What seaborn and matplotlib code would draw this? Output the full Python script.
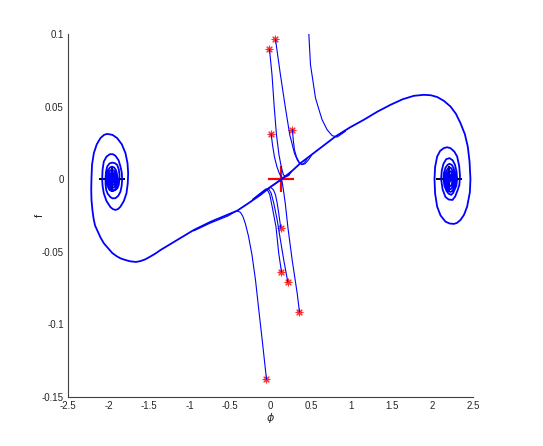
import matplotlib
matplotlib.use("Agg")
import matplotlib.pyplot as plt
import seaborn as sns
import pandas as pd

# ---------------- data ----------------
# unstable manifold from the saddle to the right focus (incl. spiral)
right_phi = [0.136, 0.247, 0.370, 0.802, 0.98, 1.152, 1.32, 1.481, 1.63, 1.769, 1.893, 1.98, 2.058, 2.14,
             2.222, 2.29, 2.346, 2.40, 2.436, 2.458, 2.469, 2.462, 2.428, 2.390, 2.346, 2.300, 2.263,
             2.210, 2.160, 2.100, 2.058, 2.033, 2.025, 2.033, 2.058, 2.095, 2.140, 2.180, 2.222, 2.270,
             2.305, 2.330, 2.340, 2.332, 2.312, 2.280, 2.247, 2.200, 2.160, 2.125, 2.107, 2.115, 2.136,
             2.170, 2.210, 2.250, 2.278, 2.298, 2.305, 2.295, 2.272, 2.255, 2.231, 2.200, 2.173, 2.148,
             2.136, 2.142, 2.160, 2.185, 2.210, 2.240, 2.259, 2.278, 2.284, 2.276, 2.259, 2.242, 2.222,
             2.198, 2.179, 2.160, 2.154, 2.160, 2.173, 2.192, 2.210, 2.232, 2.247, 2.262, 2.265, 2.260,
             2.247, 2.230, 2.210, 2.192, 2.179, 2.170, 2.167, 2.172, 2.185, 2.197, 2.210, 2.225, 2.235,
             2.245, 2.247, 2.243, 2.235, 2.222, 2.210, 2.195, 2.185, 2.180, 2.179, 2.184, 2.192, 2.200,
             2.210, 2.220, 2.225, 2.230, 2.228, 2.222, 2.212, 2.204, 2.196, 2.192, 2.192, 2.197, 2.204,
             2.211, 2.214, 2.210, 2.204, 2.204]
right_f = [0.0, 0.0047, 0.0110, 0.0294, 0.0356, 0.0409, 0.0465, 0.0512, 0.0550, 0.0574, 0.0581, 0.0578,
           0.0566, 0.0540, 0.0501, 0.0450, 0.0386, 0.0310, 0.0225, 0.0120, 0.0, -0.0090, -0.0189,
           -0.0245, -0.0281, -0.0302, -0.0308, -0.0305, -0.0292, -0.0250, -0.0189, -0.0100, 0.0,
           0.0085, 0.0156, 0.0195, 0.0214, 0.0220, 0.0214, 0.0190, 0.0156, 0.0090, 0.0023, -0.0040,
           -0.0074, -0.0120, -0.0143, -0.0140, -0.0122, -0.0070, 0.0, 0.0060, 0.0106, 0.0138, 0.0145,
           0.0130, 0.0099, 0.0050, 0.0, -0.0045, -0.0074, -0.0095, -0.0108, -0.0100, -0.0081, -0.0045,
           0.0, 0.0045, 0.0078, 0.0098, 0.0106, 0.0098, 0.0078, 0.0042, 0.0, -0.0040, -0.0067, -0.0082,
           -0.0088, -0.0080, -0.0060, -0.0032, 0.0, 0.0035, 0.0057, 0.0075, 0.0081, 0.0075, 0.0057,
           0.0032, 0.0, -0.0030, -0.0053, -0.0066, -0.0070, -0.0062, -0.0046, -0.0025, 0.0, 0.0025,
           0.0043, 0.0053, 0.0057, 0.0053, 0.0043, 0.0022, 0.0, -0.0022, -0.0040, -0.0048, -0.0050,
           -0.0045, -0.0033, -0.0017, 0.0, 0.0015, 0.0025, 0.0031, 0.0033, 0.0030, 0.0022, 0.0010,
           0.0, -0.0012, -0.0020, -0.0025, -0.0023, -0.0012, 0.0, 0.0008, 0.0012, 0.0010, 0.0,
           -0.0008, -0.0004, 0.0]

# unstable manifold from the saddle to the left focus (incl. spiral)
left_phi = [0.136, 0.000, -0.123, -0.284, -0.411, -0.535, -0.741, -0.947, -1.152, -1.358, -1.420, -1.481,
            -1.545, -1.605, -1.660, -1.728, -1.790, -1.852, -1.900, -1.954, -2.000, -2.058, -2.100, -2.140,
            -2.165, -2.181, -2.198, -2.210, -2.213, -2.210, -2.203, -2.181, -2.145, -2.099, -2.055, -2.016,
            -1.950, -1.893, -1.835, -1.790, -1.765, -1.757, -1.762, -1.778, -1.810, -1.852, -1.880, -1.914,
            -1.945, -1.975, -2.025, -2.058, -2.073, -2.078, -2.073, -2.058, -2.025, -1.984, -1.945, -1.914,
            -1.875, -1.852, -1.836, -1.831, -1.837, -1.852, -1.880, -1.914, -1.950, -1.975, -2.010, -2.028,
            -2.036, -2.037, -2.031, -2.016, -1.988, -1.954, -1.920, -1.893, -1.872, -1.864, -1.866, -1.873,
            -1.890, -1.914, -1.945, -1.975, -1.995, -2.008, -2.016, -2.019, -2.015, -2.004, -1.983, -1.957,
            -1.930, -1.907, -1.894, -1.889, -1.893, -1.905, -1.925, -1.951, -1.975, -1.994, -2.003, -2.006,
            -2.003, -1.994, -1.978, -1.957, -1.935, -1.918, -1.907, -1.903, -1.906, -1.917, -1.932, -1.951,
            -1.970, -1.983, -1.991, -1.993, -1.990, -1.983, -1.970, -1.956, -1.940, -1.928, -1.920, -1.917,
            -1.920, -1.928, -1.940, -1.952, -1.965, -1.974, -1.979, -1.980, -1.978, -1.972, -1.964, -1.955,
            -1.945, -1.938, -1.933, -1.932, -1.935, -1.940, -1.947, -1.953, -1.960, -1.965, -1.967, -1.963,
            -1.955, -1.948, -1.945, -1.948, -1.954, -1.958, -1.954]
left_f = [0.0, -0.0053, -0.0108, -0.0170, -0.0217, -0.0246, -0.0294, -0.0350, -0.0419, -0.0488, -0.0512, -0.0532,
          -0.0552, -0.0564, -0.0570, -0.0566, -0.0557, -0.0545, -0.0530, -0.0508, -0.0478, -0.0441, -0.0400,
          -0.0350, -0.0320, -0.0281, -0.0215, -0.0143, -0.0070, 0.0007, 0.0100, 0.0179, 0.0240, 0.0283,
          0.0305, 0.0312, 0.0305, 0.0283, 0.0240, 0.0179, 0.0110, 0.0041, -0.0030, -0.0097, -0.0150,
          -0.0189, -0.0205, -0.0212, -0.0206, -0.0193, -0.0150, -0.0097, -0.0045, 0.0, 0.0065, 0.0121,
          0.0155, 0.0172, 0.0172, 0.0161, 0.0130, 0.0087, 0.0045, 0.0, -0.0045, -0.0086, -0.0115,
          -0.0131, -0.0132, -0.0124, -0.0100, -0.0074, -0.0035, 0.0, 0.0050, 0.0087, 0.0108, 0.0114,
          0.0110, 0.0099, 0.0065, 0.0030, -0.0005, -0.0039, -0.0062, -0.0074, -0.0080, -0.0079, -0.0068,
          -0.0050, -0.0027, 0.0, 0.0033, 0.0062, 0.0080, 0.0087, 0.0080, 0.0062, 0.0033, 0.0, -0.0030,
          -0.0058, -0.0075, -0.0080, -0.0072, -0.0045, -0.0024, 0.0, 0.0025, 0.0047, 0.0060, 0.0066,
          0.0060, 0.0046, 0.0025, 0.0, -0.0024, -0.0044, -0.0056, -0.0061, -0.0053, -0.0033, -0.0017,
          0.0, 0.0018, 0.0033, 0.0042, 0.0046, 0.0042, 0.0032, 0.0017, 0.0, -0.0017, -0.0031, -0.0039,
          -0.0043, -0.0036, -0.0022, -0.0011, 0.0, 0.0012, 0.0021, 0.0026, 0.0028, 0.0026, 0.0019,
          0.0010, 0.0, -0.0010, -0.0017, -0.0021, -0.0023, -0.0018, -0.0010, 0.0, 0.0008, 0.0012,
          0.0008, 0.0, -0.0006, -0.0004, 0.0]

# trajectories from the initial points until they join a manifold
a_phi = [0.062, 0.123, 0.185, 0.238, 0.296, 0.330, 0.358, 0.389, 0.420, 0.451]
a_f = [0.0963, 0.0719, 0.0490, 0.0306, 0.0179, 0.0133, 0.0109, 0.0102, 0.0112, 0.0140]
b_phi = [-0.012, 0.019, 0.047, 0.074, 0.105, 0.136, 0.160, 0.191, 0.228, 0.259]
b_f = [0.0894, 0.0719, 0.0492, 0.0306, 0.0168, 0.0078, 0.0030, 0.0016, 0.0026, 0.0054]
c_phi = [0.009, 0.025, 0.049, 0.080, 0.111, 0.142, 0.173, 0.210, 0.247]
c_f = [0.0310, 0.0237, 0.0154, 0.0085, 0.0037, 0.0012, 0.0012, 0.0030, 0.0050]
d_phi = [0.272, 0.281, 0.296, 0.321, 0.352, 0.389, 0.426, 0.469, 0.506]
d_f = [0.0342, 0.0271, 0.0202, 0.0154, 0.0119, 0.0100, 0.0106, 0.0133, 0.0164]
e_phi = [0.463, 0.473, 0.494, 0.522, 0.556, 0.599, 0.638, 0.700, 0.762, 0.823, 0.926]
e_f = [0.1064, 0.1007, 0.0788, 0.0685, 0.0559, 0.0478, 0.0409, 0.0340, 0.0300, 0.0290, 0.0330]
p1_phi = [0.127, 0.102, 0.083, 0.062, 0.037, 0.006, -0.031, -0.080, -0.136]
p1_f = [-0.0336, -0.0234, -0.0166, -0.0108, -0.0074, -0.0057, -0.0063, -0.0084, -0.0112]
p2_phi = [0.136, 0.102, 0.068, 0.021, -0.009, -0.037, -0.074, -0.123, -0.185]
p2_f = [-0.0639, -0.0510, -0.0327, -0.0189, -0.0105, -0.0075, -0.0077, -0.0098, -0.0126]
p3_phi = [0.214, 0.164, 0.123, 0.083, 0.041, 0.009, -0.019, -0.056, -0.111, -0.222]
p3_f = [-0.0708, -0.0557, -0.0419, -0.0281, -0.0166, -0.0097, -0.0070, -0.0067, -0.0091, -0.0139]
p4_phi = [0.358, 0.330, 0.268, 0.216, 0.185, 0.160, 0.142, 0.111, 0.025]
p4_f = [-0.0915, -0.0786, -0.0557, -0.0336, -0.0177, -0.0074, -0.0012, -0.0012, -0.0046]
p5_phi = [-0.049, -0.102, -0.144, -0.185, -0.228, -0.272, -0.309, -0.340, -0.370, -0.407, -0.444, -0.519,
          -0.741, -0.947]
p5_f = [-0.1379, -0.1108, -0.0901, -0.0694, -0.0522, -0.0391, -0.0308, -0.0257, -0.0229, -0.0219, -0.0226,
        -0.0252, -0.0302, -0.0356]

# initial conditions (red asterisks)
ic_phi = [-0.012, 0.062, 0.009, 0.272, 0.127, 0.136, 0.214, 0.358, -0.049]
ic_f = [0.0894, 0.0963, 0.0310, 0.0342, -0.0336, -0.0639, -0.0708, -0.0915, -0.1379]

# equilibria
saddle_phi = [0.136]
saddle_f = [0.0]
focus_phi = [-1.954, 2.204]
focus_f = [0.0, 0.0]

xticks = [-2.5, -2, -1.5, -1, -0.5, 0, 0.5, 1, 1.5, 2, 2.5]
xticklabels = ["-2.5", "-2", "-1.5", "-1", "-0.5", "0", "0.5", "1", "1.5", "2", "2.5"]
yticks = [-0.15, -0.1, -0.05, 0, 0.05, 0.1]
yticklabels = ["-0.15", "-0.1", "-0.05", "0", "0.05", "0.1"]

# ---------------- build tables ----------------
def frame(paths):
    rows = []
    for name, xs, ys in paths:
        for i, (x, y) in enumerate(zip(xs, ys)):
            rows.append({"traj": name, "i": i, "phi": x, "f": y})
    return pd.DataFrame(rows)

df_main = frame([("right", right_phi, right_f), ("left", left_phi, left_f)])
df_app = frame([("a", a_phi, a_f), ("b", b_phi, b_f), ("c", c_phi, c_f), ("d", d_phi, d_f),
                ("e", e_phi, e_f), ("p1", p1_phi, p1_f), ("p2", p2_phi, p2_f),
                ("p3", p3_phi, p3_f), ("p4", p4_phi, p4_f), ("p5", p5_phi, p5_f)])

# ---------------- plot ----------------
sns.set_style("white")
plt.rcParams["font.family"] = ["Liberation Sans", "DejaVu Sans"]

fig = plt.figure(figsize=(5.43, 4.46), dpi=100)
ax = fig.add_axes([0.1252, 0.1099, 0.7458, 0.8139])

# markers under the lines
sns.scatterplot(x=focus_phi, y=focus_f, marker="+", s=330, color="black",
                linewidth=1.4, ax=ax, zorder=1, legend=False)
sns.scatterplot(x=saddle_phi, y=saddle_f, marker="+", s=330, color="red",
                linewidth=1.6, ax=ax, zorder=1, legend=False)
sns.scatterplot(x=ic_phi, y=ic_f, marker=(8, 2, 0), s=24, color="#ff3030",
                linewidth=0.8, ax=ax, zorder=1, legend=False)

sns.lineplot(data=df_app, x="phi", y="f", units="traj", estimator=None, sort=False,
             color="blue", linewidth=0.8, ax=ax, legend=False, zorder=2)
sns.lineplot(data=df_main, x="phi", y="f", units="traj", estimator=None, sort=False,
             color="blue", linewidth=1.3, ax=ax, legend=False, zorder=3)

ax.set_xlim(-2.5, 2.5)
ax.set_ylim(-0.15, 0.1)
ax.set_xticks(xticks)
ax.set_xticklabels(xticklabels)
ax.set_yticks(yticks)
ax.set_yticklabels(yticklabels)

for s in ["top", "right"]:
    ax.spines[s].set_visible(False)
for s in ["left", "bottom"]:
    ax.spines[s].set_color("#404040")
    ax.spines[s].set_linewidth(0.8)

ax.tick_params(direction="in", length=3.5, width=0.6, colors="#262626", labelsize=7, pad=3)
ax.set_xlabel(r"$\phi$", fontsize=8, color="#262626", labelpad=0)
ax.set_ylabel("f", fontsize=8, color="#262626", labelpad=-2)
ax.grid(False)

fig.savefig("out.png", dpi=100)
